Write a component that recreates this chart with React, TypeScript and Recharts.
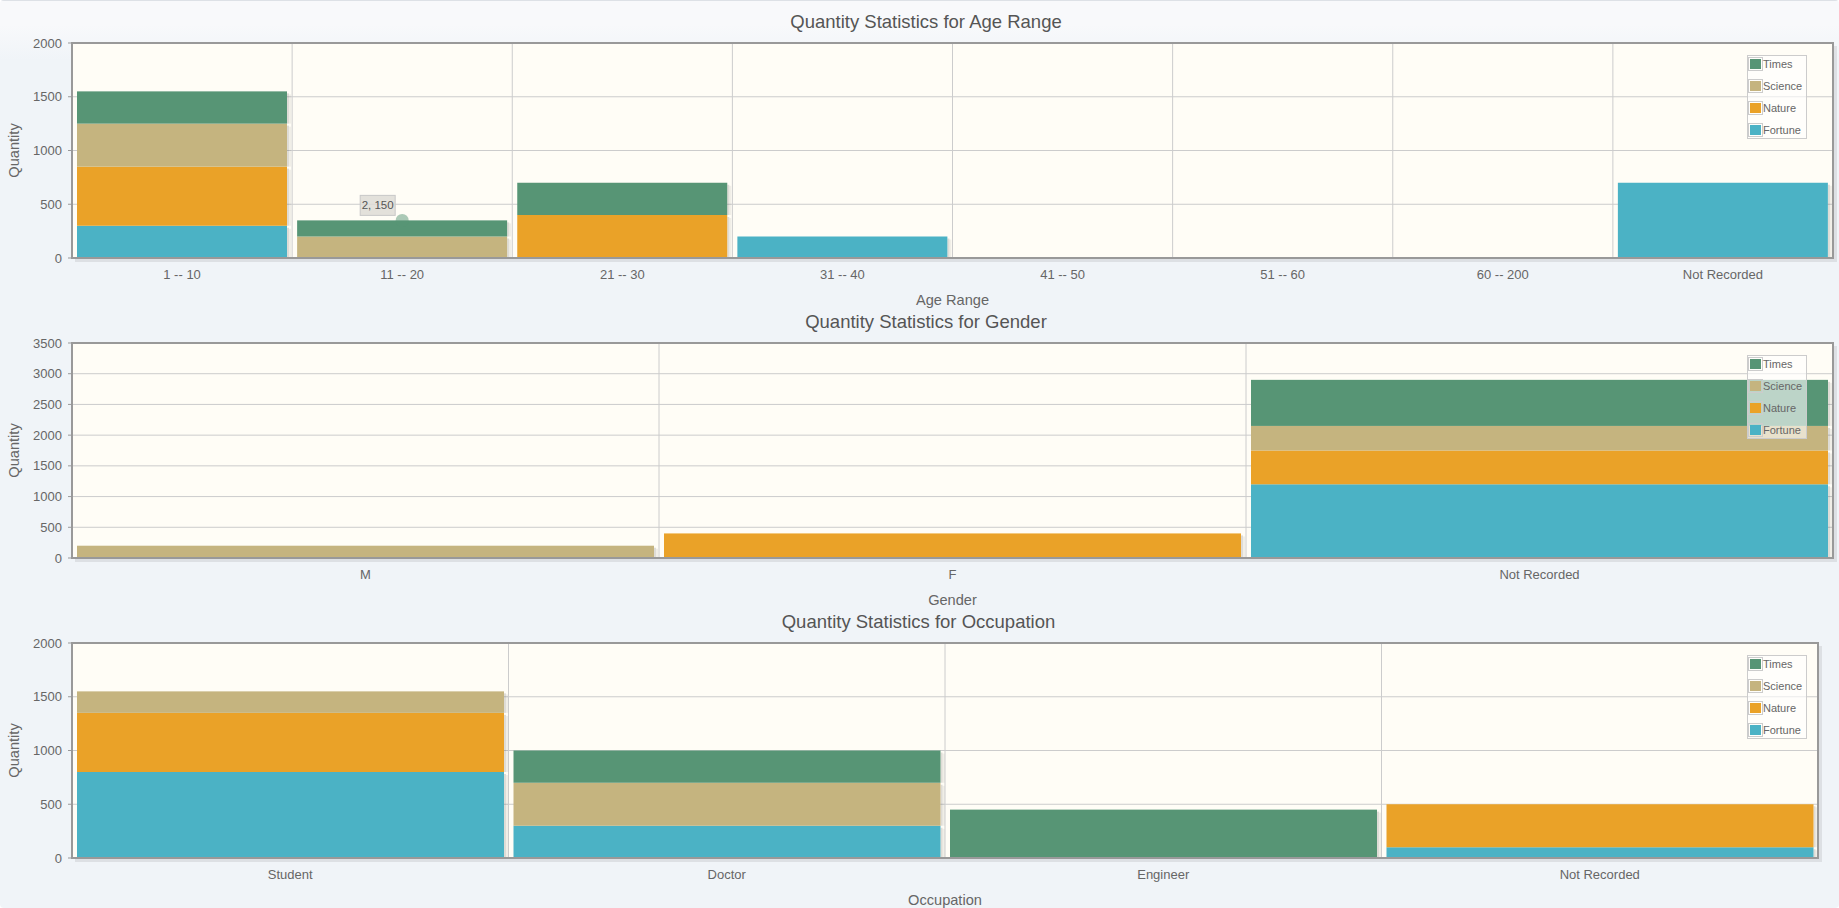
import React from 'react';
import {
  BarChart,
  Bar,
  XAxis,
  YAxis,
  CartesianGrid,
  Legend,
  ReferenceArea,
  ReferenceDot,
} from 'recharts';

// ---------- data ----------
const seriesNames = ['Fortune', 'Nature', 'Science', 'Times'];
const seriesColors = ['#4bb2c5', '#EAA228', '#c5b47f', '#579575'];

const ageCategories = ['1 -- 10', '11 -- 20', '21 -- 30', '31 -- 40', '41 -- 50', '51 -- 60', '60 -- 200', 'Not Recorded'];
const ageFortune = [300, 0, 0, 200, 0, 0, 0, 700];
const ageNature = [550, 0, 400, 0, 0, 0, 0, 0];
const ageScience = [400, 200, 0, 0, 0, 0, 0, 0];
const ageTimes = [300, 150, 300, 0, 0, 0, 0, 0];
const ageTicks = [0, 500, 1000, 1500, 2000];

const genderCategories = ['M', 'F', 'Not Recorded'];
const genderFortune = [0, 0, 1200];
const genderNature = [0, 400, 550];
const genderScience = [200, 0, 400];
const genderTimes = [0, 0, 750];
const genderTicks = [0, 500, 1000, 1500, 2000, 2500, 3000, 3500];

const occCategories = ['Student', 'Doctor', 'Engineer', 'Not Recorded'];
const occFortune = [800, 300, 0, 100];
const occNature = [550, 0, 0, 400];
const occScience = [200, 400, 0, 0];
const occTimes = [0, 300, 450, 0];
const occTicks = [0, 500, 1000, 1500, 2000];

// highlighted point (hovered) in the first chart: category index & series
const highlightIndex = 1;
const highlightSeries = 'Times';

const FONT = '"Liberation Sans", Arial, sans-serif';

function buildRows(categories: string[], series: number[][]) {
  return categories.map((c, i) => {
    const row: any = { name: c };
    seriesNames.forEach((s, k) => {
      row[s] = series[k][i];
    });
    return row;
  });
}

const ShadowBar = (props: any) => {
  const { x, y, width, height, fill } = props;
  if (!height || height <= 0 || !width) return null;
  return (
    <g>
      <rect x={x + width} y={y + 2} width={2} height={Math.max(0, height - 2)} fill="rgba(0,0,0,0.13)" />
      <rect x={x + width + 2} y={y + 3} width={2} height={Math.max(0, height - 3)} fill="rgba(0,0,0,0.06)" />
      <rect x={x} y={y} width={width} height={height} fill={fill} />
    </g>
  );
};

const BorderShape = (props: any) => {
  const { x, y, width, height } = props;
  return (
    <g>
      <path
        d={`M${x + width + 2.5},${y + 3} V${y + height + 2.5} H${x + 3}`}
        stroke="rgba(0,0,0,0.08)"
        strokeWidth={3}
        fill="none"
      />
      <rect x={x} y={y} width={width} height={height} fill="none" stroke="#999999" strokeWidth={2} />
    </g>
  );
};

const LegendBox = (props: any) => {
  const items = [...seriesNames].map((n, i) => ({ n, c: seriesColors[i] })).reverse();
  return (
    <div
      style={{
        border: '1px solid #cccccc',
        background: 'rgba(255,255,255,0.6)',
        width: 58,
        height: 82,
        fontFamily: FONT,
        fontSize: 11,
        color: '#666666',
        boxSizing: 'content-box',
      }}
    >
      <div style={{ marginTop: -3 }}>
        {items.map((it) => (
          <div key={it.n} style={{ display: 'flex', alignItems: 'center', height: 22 }}>
            <div style={{ border: '1px solid #cccccc', padding: 1, marginLeft: 0 }}>
              <div style={{ width: 11, height: 10, background: it.c }} />
            </div>
            <span style={{ marginLeft: 0 }}>{it.n}</span>
          </div>
        ))}
      </div>
    </div>
  );
};

type ChartProps = {
  title: string;
  categories: string[];
  series: number[][];
  ticks: number[];
  xLabel: string;
  top: number;
  height: number;
  marginRight: number;
  highlight?: { category: string; total: number; label: string };
};

const W = 1839;
const PLOT_TOP = 43;
const PLOT_H = 215;
const Y_W = 72;
const X_H = 42;
const EXTRA = 12;

function StatChart({ title, categories, series, ticks, xLabel, top, height, marginRight, highlight }: ChartProps) {
  const data = buildRows(categories, series);
  const n = categories.length;
  const yMax = ticks[ticks.length - 1];
  const plotLeft = Y_W;
  const plotRight = W - marginRight;
  const titleCenter = (plotLeft + plotRight) / 2 - 26.5;
  return (
    <div style={{ position: 'absolute', left: 0, top, width: W, height }}>
      <div
        style={{
          position: 'absolute',
          left: titleCenter - 400,
          width: 800,
          top: PLOT_TOP - 21.5 - 11,
          height: 22,
          lineHeight: '22px',
          textAlign: 'center',
          fontFamily: FONT,
          fontSize: 18.5,
          color: '#555555',
        }}
      >
        {title}
      </div>
      <BarChart
        width={W}
        height={PLOT_TOP + PLOT_H + X_H + EXTRA}
        data={data}
        margin={{ top: PLOT_TOP, right: marginRight, bottom: EXTRA, left: 0 }}
        barCategoryGap={5}
      >
        <CartesianGrid
          fill="#fffdf6"
          stroke="#cccccc"
          strokeWidth={1}
          verticalCoordinatesGenerator={({ offset }: any) => {
            const out: number[] = [];
            for (let i = 1; i < n; i++) out.push(offset.left + (i * offset.width) / n);
            return out;
          }}
        />
        <XAxis
          dataKey="name"
          height={X_H}
          axisLine={false}
          tickLine={false}
          tickSize={0}
          tickMargin={12}
          interval={0}
          tick={{ fill: '#666666', fontSize: 13, fontFamily: FONT }}
          label={{
            content: (p: any) => {
              const vb = p.viewBox || {};
              return (
                <text
                  x={vb.x + vb.width / 2}
                  y={vb.y + 47}
                  textAnchor="middle"
                  fill="#666666"
                  fontSize={14.6}
                  fontFamily={FONT}
                >
                  {xLabel}
                </text>
              );
            },
          }}
        />
        <YAxis
          width={Y_W}
          domain={[0, yMax]}
          ticks={ticks}
          interval={0}
          axisLine={false}
          tickLine={{ stroke: '#999999' }}
          tickSize={4}
          tickMargin={6}
          tick={{ fill: '#666666', fontSize: 13, fontFamily: FONT }}
          label={{
            content: (p: any) => {
              const vb = p.viewBox || {};
              const cy = vb.y + vb.height / 2;
              return (
                <text
                  x={14}
                  y={cy}
                  transform={`rotate(-90 14 ${cy})`}
                  textAnchor="middle"
                  dominantBaseline="central"
                  fill="#666666"
                  fontSize={14.6}
                  fontFamily={FONT}
                >
                  Quantity
                </text>
              );
            },
          }}
        />
        {seriesNames.map((s, i) => (
          <Bar
            key={s}
            dataKey={s}
            stackId="a"
            fill={seriesColors[i]}
            shape={ShadowBar}
            isAnimationActive={false}
          />
        ))}
        <ReferenceArea y1={0} y2={yMax} shape={BorderShape} ifOverflow="visible" zIndex={1000} />
        {highlight ? (
          <ReferenceDot
            x={highlight.category}
            y={highlight.total}
            ifOverflow="visible"
            shape={(p: any) => (
              <g>
                <circle cx={p.cx} cy={p.cy} r={6.5} fill="rgba(87,149,117,0.5)" />
                <rect
                  x={p.cx - 42}
                  y={p.cy - 25}
                  width={35}
                  height={20}
                  fill="rgba(222,220,214,0.85)"
                  stroke="#c8c8c8"
                  strokeWidth={1}
                />
                <text
                  x={p.cx - 24.5}
                  y={p.cy - 15}
                  textAnchor="middle"
                  dominantBaseline="central"
                  fontSize={11.5}
                  fontFamily={FONT}
                  fill="#555555"
                >
                  {highlight.label}
                </text>
              </g>
            )}
          />
        ) : null}
        <Legend
          layout="vertical"
          align="center"
          verticalAlign="middle"
          content={LegendBox}
          wrapperStyle={{ left: 1747, top: 55, right: 'auto', bottom: 'auto', width: 60, height: 84 }}
        />
      </BarChart>
    </div>
  );
}

export default function App() {
  const ageSeries = [ageFortune, ageNature, ageScience, ageTimes];
  const hk = seriesNames.indexOf(highlightSeries);
  const hTotal = ageSeries.reduce((acc, arr, k) => (k <= hk ? acc + arr[highlightIndex] : acc), 0);
  return (
    <div
      style={{
        position: 'absolute',
        left: 0,
        top: 0,
        width: W,
        height: 908,
        overflow: 'hidden',
        borderRadius: 4,
        background: 'linear-gradient(to bottom, #f8f9fb 0px, #f8f9fb 25px, #f0f4f8 60px, #f0f4f8 100%)',
      }}
    >
      <div
        style={{
          position: 'absolute',
          left: 0,
          top: 0,
          width: W,
          height: 1,
          background: '#dde1e6',
        }}
      />
      <StatChart
        title="Quantity Statistics for Age Range"
        categories={ageCategories}
        series={ageSeries}
        ticks={ageTicks}
        xLabel="Age Range"
        top={0}
        height={300}
        marginRight={6}
        highlight={{
          category: ageCategories[highlightIndex],
          total: hTotal,
          label: `${highlightIndex + 1}, ${ageTimes[highlightIndex]}`,
        }}
      />
      <StatChart
        title="Quantity Statistics for Gender"
        categories={genderCategories}
        series={[genderFortune, genderNature, genderScience, genderTimes]}
        ticks={genderTicks}
        xLabel="Gender"
        top={300}
        height={300}
        marginRight={6}
      />
      <StatChart
        title="Quantity Statistics for Occupation"
        categories={occCategories}
        series={[occFortune, occNature, occScience, occTimes]}
        ticks={occTicks}
        xLabel="Occupation"
        top={600}
        height={308}
        marginRight={21}
      />
    </div>
  );
}
